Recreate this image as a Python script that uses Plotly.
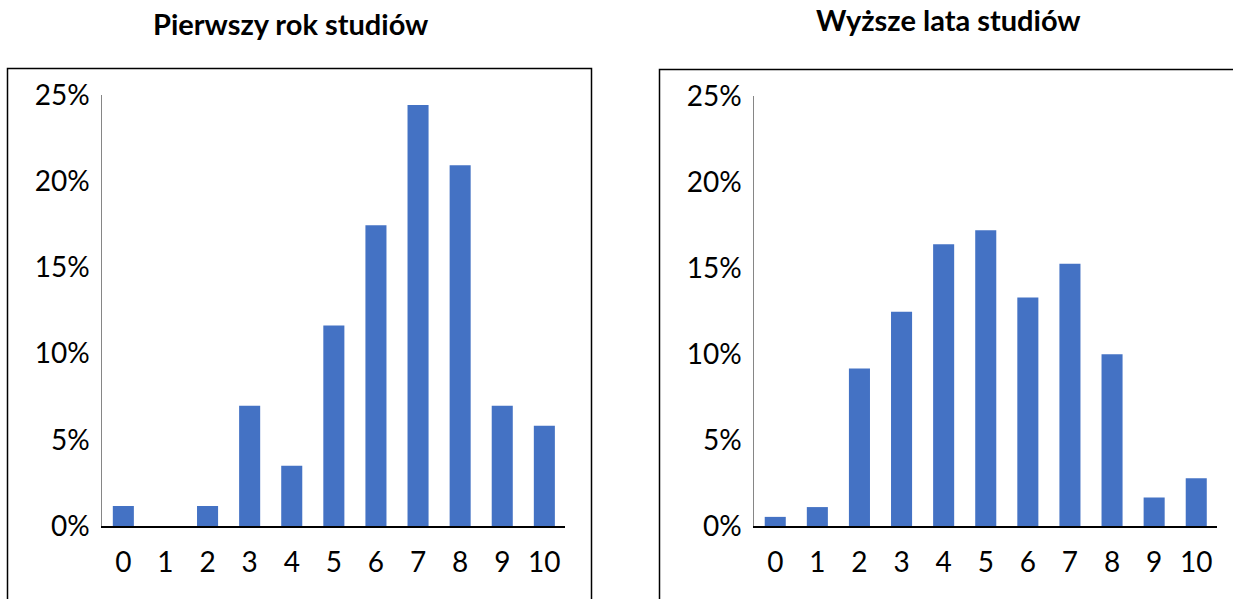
import plotly.graph_objects as go

categories = ["0", "1", "2", "3", "4", "5", "6", "7", "8", "9", "10"]
first_year = [1.16, 0.0, 1.16, 6.98, 3.49, 11.63, 17.44, 24.42, 20.93, 6.98, 5.81]
higher_years = [0.53, 1.10, 9.15, 12.46, 16.38, 17.20, 13.29, 15.24, 9.98, 1.66, 2.77]
y_ticks = [0, 5, 10, 15, 20, 25]
y_ticklabels = ["0%", "5%", "10%", "15%", "20%", "25%"]
titles = ["Pierwszy rok studiów", "Wyższe lata studiów"]

W, H = 1233, 599
BAR = "#4472C4"
FONT = "Lato"

def px(x):
    return x / W

def py(y):
    return 1 - y / H

fig = go.Figure()
fig.add_trace(go.Bar(x=categories, y=first_year, xaxis="x", yaxis="y",
                     marker=dict(color=BAR, line=dict(width=0)),
                     hoverinfo="x+y"))
fig.add_trace(go.Bar(x=categories, y=higher_years, xaxis="x2", yaxis="y2",
                     marker=dict(color=BAR, line=dict(width=0)),
                     hoverinfo="x+y"))

xcommon = dict(type="category", range=[-0.5, 10.5], showline=True, linecolor="#000000",
               linewidth=2, showgrid=False, zeroline=False, ticks="", automargin=False,
               tickfont=dict(family=FONT, size=28, color="#000000"),
               ticklabelstandoff=10, fixedrange=True)
ycommon = dict(range=[0, 25], tickvals=y_ticks, ticktext=y_ticklabels, automargin=False,
               showline=True, linecolor="#868686", linewidth=1, showgrid=False,
               zeroline=False, ticks="", tickfont=dict(family=FONT, size=28, color="#000000"),
               ticklabelstandoff=6, fixedrange=True)

fig.update_layout(
    width=W, height=H,
    autosize=False,
    margin=dict(l=0, r=0, t=0, b=0, pad=0),
    paper_bgcolor="white", plot_bgcolor="white",
    showlegend=False, bargap=0.5,
    xaxis=dict(domain=[px(102.3), px(565.4)], anchor="y", **xcommon),
    yaxis=dict(domain=[py(526), py(95)], anchor="x", **ycommon),
    xaxis2=dict(domain=[px(754.2), px(1217.3)], anchor="y2", **xcommon),
    yaxis2=dict(domain=[py(526), py(96)], anchor="x2", **ycommon),
    annotations=[
        dict(text="<b>%s</b>" % titles[0], x=px(290.5), y=py(24), xref="paper", yref="paper",
             xanchor="center", yanchor="middle", showarrow=False,
             font=dict(family=FONT, size=29, color="#000000")),
        dict(text="<b>%s</b>" % titles[1], x=px(948.7), y=py(20), xref="paper", yref="paper",
             xanchor="center", yanchor="middle", showarrow=False,
             font=dict(family=FONT, size=29, color="#000000")),
    ],
    shapes=[
        dict(type="rect", xref="paper", yref="paper", x0=px(7.5), x1=px(591.5),
             y0=py(620), y1=py(68.5), line=dict(color="#000000", width=1.5)),
        dict(type="rect", xref="paper", yref="paper", x0=px(659.5), x1=px(1260),
             y0=py(620), y1=py(69.5), line=dict(color="#000000", width=1.5)),
    ],
)

fig.write_html("out.html",
               config={"displayModeBar": False},
               post_script="document.body.style.margin='0';document.body.style.overflow='hidden';")
